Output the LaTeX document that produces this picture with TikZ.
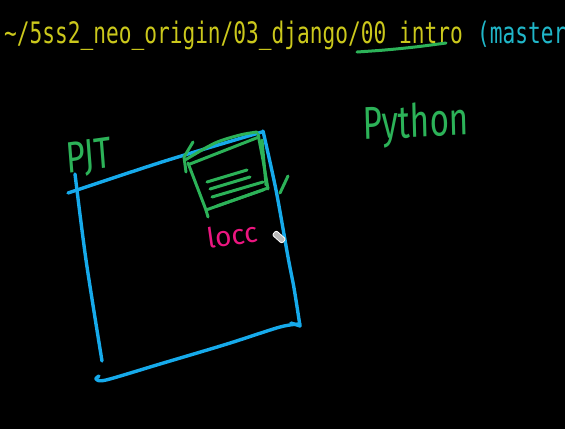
\documentclass[tikz,border=0pt]{standalone}
\usepackage{fontspec}
\usetikzlibrary{positioning}
\newfontfamily\termfont{DejaVu Sans Mono}
\newfontfamily\handfont{Fira Sans}
\definecolor{termyellow}{RGB}{203,200,28}
\definecolor{termcyan}{RGB}{32,182,200}
\definecolor{penblue}{RGB}{22,170,235}
\definecolor{pengreen}{RGB}{44,178,88}
\definecolor{penpink}{RGB}{236,22,128}
\tikzset{
  bluepen/.style={penblue,line width=3.4pt,line cap=round,line join=round},
  greenpen/.style={pengreen,line width=3pt,line cap=round,line join=round},
  term/.style={font=\termfont\fontsize{29.6}{30}\selectfont,inner sep=0pt,xscale=0.715,anchor=base west},
  hand/.style={font=\handfont,inner sep=0pt},
  pointer/.style={draw=white,line width=0.8pt,fill=gray!55,rounded corners=2pt,
                  minimum width=13pt,minimum height=6pt,inner sep=0pt},
}

\begin{document}
\begin{tikzpicture}[x=1pt,y=-1pt]
  \path[use as bounding box] (0,0) rectangle (565,429);
  \fill[black] (0,0) rectangle (565,429);

  % terminal prompt
  \node[term,text=termyellow] (cwd) at (4,43) {\textasciitilde/5ss2\_neo\_origin/03\_django/00\_intro};
  \node[term,text=termcyan] (branch) at (477,43) {(master};
  \draw[greenpen] plot[smooth] coordinates {(357,52) (385,50) (415,47) (446,43)};

  % project box
  \draw[bluepen] plot[smooth] coordinates {(68,193) (165,161) (262,132)};
  \draw[bluepen] plot[smooth] coordinates {(75,174) (86,260) (102,361)};
  \draw[bluepen] plot[smooth] coordinates {(263,131) (276,190) (288,257) (294,288) (300,326)};
  \draw[bluepen] (300,326) -- (291,323);
  \draw[bluepen] plot[smooth] coordinates {(99,376) (96,379) (106,380) (160,364) (227,344) (280,327) (300,324)};

  % document icon
  \draw[greenpen] plot[smooth] coordinates {(185,160) (215,143) (240,135) (257,132)};
  \draw[greenpen] (190,164) -- (259,137);
  \draw[greenpen] (188,163) -- (206,210) -- (208,217);
  \draw[greenpen] (258,134) -- (263,160) -- (268,189);
  \draw[greenpen] (262,140) -- (266,185);
  \draw[greenpen] (206,210) -- (268,188);
  \draw[greenpen] (217,206) -- (263,190);
  \draw[greenpen] (193,142) -- (184,157) -- (186,172);
  \draw[greenpen] (280,193) -- (288,176);
  \draw[greenpen] (207,182) -- (247,170);
  \draw[greenpen] (210,189) -- (250,177);
  \draw[greenpen] (212,197) -- (263,182);

  % labels
  \node[hand,text=pengreen,font=\handfont\fontsize{44}{44}\selectfont,xscale=0.75,rotate=6] (pjt) at (89,158) {PJT};
  \node[hand,text=pengreen,font=\handfont\fontsize{46}{46}\selectfont,xscale=0.72,rotate=2] (python) at (416,125) {Python};
  \node[hand,text=penpink,font=\handfont\fontsize{28}{28}\selectfont,rotate=8] (loc) at (232,235) {locc};
  \node[pointer,rotate=-42] (cursor) at (279,237) {};
\end{tikzpicture}
\end{document}
